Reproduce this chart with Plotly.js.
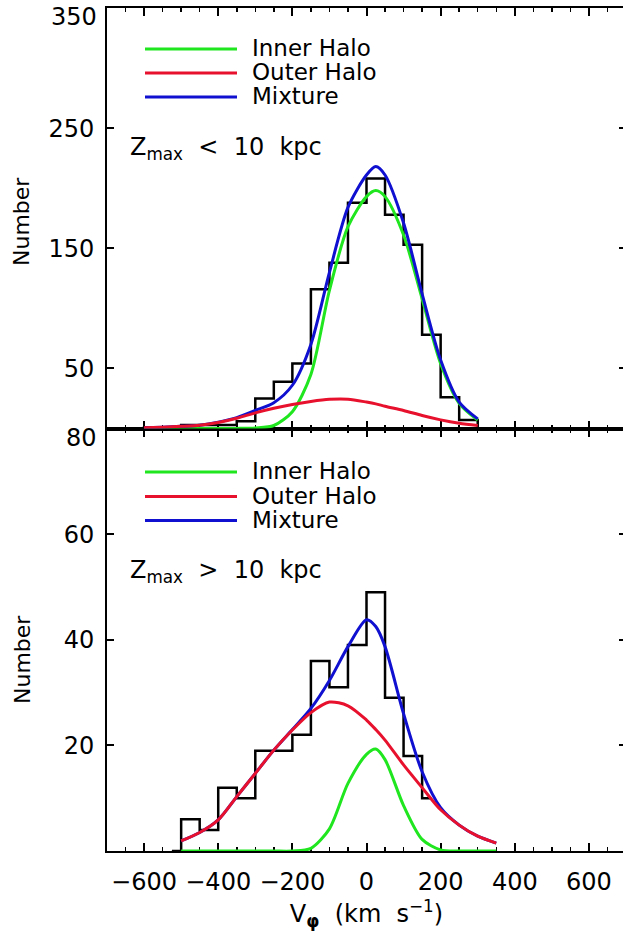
<!DOCTYPE html>
<html>
<head>
<meta charset="utf-8">
<script src="https://cdn.plot.ly/plotly-3.0.1.min.js"></script>
<style>
html,body{margin:0;padding:0;overflow:hidden;background:#fff;}
#chart{width:630px;height:943px;}
</style>
</head>
<body>
<div id="chart"></div>
<script>
// ---------------- DATA ----------------
// Histogram bin centres (km/s), bin width 50
const binTop = [-625,-575,-525,-475,-425,-375,-325,-275,-225,-175,-125,-75,-25,25,75,125,175,225,275,325];
const countTop = [0,1,1,3,3,3,6,25,39,54,116,138,188,208,178,153,78,26,7,0];

const binBot = [-525,-475,-425,-375,-325,-275,-225,-175,-125,-75,-25,25,75,125,175];
const countBot = [0,6,4,12,10,19,19,22,36,31,39,49,29,18,10];

// Fitted model curves
const vTop = [-600,-550,-500,-450,-400,-350,-300,-250,-200,-150,-100,-50,0,25,50,100,150,200,250,300];
const innerTop = [0,0,0,0,0,0.1,0.5,2.5,14,45,115,168,193,198,193,161,108,54,21,7];
const outerTop = [0.6,1.1,1.8,2.8,5,8.5,13,16.8,20,22.5,24.3,24.4,22,20.5,18.5,15,10.8,7.2,4.4,2.5];
const mixTop = [0.6,1.1,1.8,2.8,5.3,9,15,21.5,36,70,130,184,211,218,211,171,112,57,22,8];

const vBot = [-500,-450,-400,-350,-300,-250,-200,-150,-100,-50,0,25,50,100,150,200,250,300,350];
const innerBot = [0,0,0,0,0,0,0,0.5,4.2,12.8,18.3,19.3,17.3,8.6,2.2,0.2,0,0,0];
const outerBot = [1.9,3.5,5.9,10.3,14.7,19.1,22.9,26.2,28.2,27.5,24.8,23,21,16.3,12,7.8,4.9,2.8,1.5];
const mixBot = [1.9,3.5,5.9,10.3,14.7,19.1,23,27,32.3,38.7,43.8,42.5,38.7,26,15,8.2,4.9,2.8,1.5];

const xTicks = [-600,-400,-200,0,200,400,600];
const yTicksTop = [50,150,250];
const yTicksBot = [20,40,60];
const seriesNames = ['Inner Halo','Outer Halo','Mixture'];
const panelLabels = ['Z<sub>max</sub>\u00a0 &lt;\u00a0 10\u00a0 kpc','Z<sub>max</sub>\u00a0 &gt;\u00a0 10\u00a0 kpc'];

// ---------------- STYLE ----------------
const GREEN = '#1fe61f', RED = '#e8112d', BLUE = '#1010d0';
const FONT = 'DejaVu Sans, Liberation Sans, sans-serif';
const W = 630, H = 943, L = 107, R = 4, T = 8, B = 92;
const plotW = W - L - R, plotH = H - T - B;
const px = x => (x - L) / plotW;
const py = y => (H - B - y) / plotH;
const split = py(428.5);

function curve(x, y, color, xa, ya) {
  return {type:'scatter', mode:'lines', x:x, y:y, xaxis:xa, yaxis:ya,
    line:{color:color, width:3, shape:'spline', smoothing:0.8}, showlegend:false, hoverinfo:'skip'};
}
function hist(x, y, xa, ya) {
  return {type:'scatter', mode:'lines', x:x, y:y, xaxis:xa, yaxis:ya,
    line:{color:'black', width:2.5, shape:'hvh'}, showlegend:false, hoverinfo:'skip'};
}

const traces = [
  hist(binTop, countTop, 'x2', 'y2'),
  curve(vTop, innerTop, GREEN, 'x2', 'y2'),
  curve(vTop, mixTop, BLUE, 'x2', 'y2'),
  curve(vTop, outerTop, RED, 'x2', 'y2'),
  hist(binBot, countBot, 'x', 'y'),
  curve(vBot, innerBot, GREEN, 'x', 'y'),
  curve(vBot, mixBot, BLUE, 'x', 'y'),
  curve(vBot, outerBot, RED, 'x', 'y')
];

const axisCommon = {
  showline:true, linecolor:'black', linewidth:2, mirror:'ticks',
  ticks:'inside', tickcolor:'black', tickwidth:2,
  showgrid:false, zeroline:false, layer:'below traces',
  tickfont:{family:FONT, size:24, color:'black'}
};

const xCommon = Object.assign({}, axisCommon, {
  range:[-700,700], tickmode:'array', tickvals:xTicks, ticklen:8,
  minor:{dtick:50, tick0:0, ticks:'inside', ticklen:4, tickwidth:1.5, tickcolor:'black', showgrid:false}
});

const layout = {
  width:W, height:H,
  margin:{l:L, r:R, t:T, b:B},
  paper_bgcolor:'white', plot_bgcolor:'white',
  showlegend:false,
  xaxis: Object.assign({}, xCommon, {
    anchor:'y', domain:[0,1],
    ticktext: xTicks.map(v => v < 0 ? '\u2212' + Math.abs(v) : String(v)),
    ticklabelstandoff:8,
    title:{text:'V<sub><b>\u03c6</b></sub>  (km  s<sup>\u22121</sup>)', font:{family:FONT, size:24, color:'black'}, standoff:2}
  }),
  xaxis2: Object.assign({}, xCommon, {anchor:'y2', matches:'x', showticklabels:false}),
  yaxis: Object.assign({}, axisCommon, {
    anchor:'x', domain:[0, split], range:[0,80], tickmode:'array', tickvals:yTicksBot,
    ticklen:7, ticklabelstandoff:6
  }),
  yaxis2: Object.assign({}, axisCommon, {
    anchor:'x2', domain:[split, 1], range:[0,350], tickmode:'array', tickvals:yTicksTop,
    ticklen:7, ticklabelstandoff:6
  }),
  shapes: [],
  annotations: []
};

const tf = {family:FONT, size:24, color:'black'};
// top tick labels at panel tops (shifted down as in the original)
layout.annotations.push({xref:'paper', yref:'paper', x:px(99), y:py(17), xanchor:'right', yanchor:'middle', text:'350', showarrow:false, font:tf});
layout.annotations.push({xref:'paper', yref:'paper', x:px(99), y:py(438), xanchor:'right', yanchor:'middle', text:'80', showarrow:false, font:tf});
// y titles
layout.annotations.push({xref:'paper', yref:'paper', x:px(22), y:py(222), xanchor:'center', yanchor:'middle', text:'Number', textangle:-90, showarrow:false, font:{family:FONT, size:22, color:'black'}});
layout.annotations.push({xref:'paper', yref:'paper', x:px(22), y:py(660), xanchor:'center', yanchor:'middle', text:'Number', textangle:-90, showarrow:false, font:{family:FONT, size:22, color:'black'}});

// legends
const legColors = [GREEN, RED, BLUE];
const legY = [[49, 73, 97], [472, 496.5, 520.5]];
legY.forEach(ys => {
  ys.forEach((y, i) => {
    layout.shapes.push({type:'line', xref:'paper', yref:'paper', x0:px(145), x1:px(237), y0:py(y), y1:py(y), line:{color:legColors[i], width:3}});
    layout.annotations.push({xref:'paper', yref:'paper', x:px(250), y:py(y - 1), xanchor:'left', yanchor:'middle', text:seriesNames[i], showarrow:false, font:{family:FONT, size:23, color:'black'}});
  });
});
// panel labels
layout.annotations.push({xref:'paper', yref:'paper', x:px(128), y:py(131), xanchor:'left', yanchor:'top', text:panelLabels[0], showarrow:false, font:{family:FONT, size:24, color:'black'}});
layout.annotations.push({xref:'paper', yref:'paper', x:px(128), y:py(554), xanchor:'left', yanchor:'top', text:panelLabels[1], showarrow:false, font:{family:FONT, size:24, color:'black'}});

Plotly.newPlot('chart', traces, layout, {staticPlot:true, displayModeBar:false});
</script>
</body>
</html>
